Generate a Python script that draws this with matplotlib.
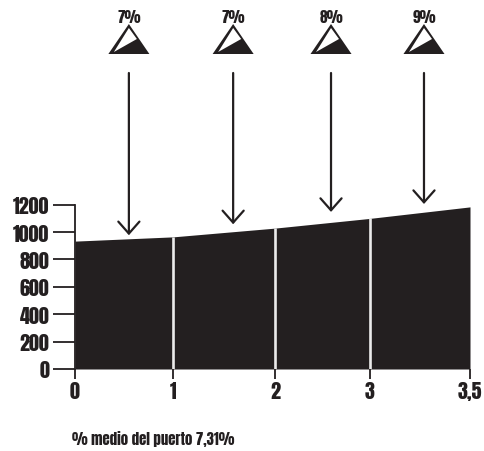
import matplotlib
matplotlib.use('Agg')
import matplotlib.pyplot as plt
import numpy as np
from matplotlib import font_manager

# data
km = [0, 1, 2, 3, 3.5]
altitude = [934, 965, 1029, 1100, 1184]
alt_ticks = [0, 200, 400, 600, 800, 1000, 1200]
km_labels = ['0', '1', '2', '3', '3,5']
# where each km mark sits along the axis (the original is not quite to scale)
km_place = [0, 0.992, 2.025, 2.987, 4.0]

slope_km = [0.55, 1.59, 2.59, 3.27]
slope_pct = ['7%', '7%', '8%', '9%']
arrow_tip = [977, 1057, 1147, 1205]
note = '% medio del puerto 7,31%'

INK = '#231f20'
names = {f.name for f in font_manager.fontManager.ttflist}
font = 'DejaVu Sans'
for cand in ['Anton', 'Oswald', 'League Gothic', 'Liberation Sans']:
    if cand in names:
        font = cand
        break
plt.rcParams['font.family'] = [font, 'DejaVu Sans']

W, H = 485, 452
fig = plt.figure(figsize=(W / 100, H / 100), dpi=100)
ax = fig.add_axes([75 / W, 1 - 370 / H, (470 - 75) / W, (370 - 205.7) / H])
ax.set_xscale('function', functions=(lambda v: np.interp(v, km, km_place, left=-1, right=5),
                                     lambda v: np.interp(v, km_place, km, left=-1, right=5)))
ax.set_xlim(0, 3.5)
ax.set_ylim(0, 1200)

# profile
ax.fill_between(km, altitude, 0, color=INK, lw=0)
ax.vlines(km[1:4], 0, altitude[1:4], color='#ebebeb', lw=1.9)

for s in ['top', 'right']:
    ax.spines[s].set_visible(False)
ax.spines['left'].set_linewidth(1.3)
ax.spines['left'].set_color(INK)
ax.spines['bottom'].set_visible(False)

ax.set_yticks(alt_ticks)
ax.set_xticks(km)
ax.set_xticklabels(km_labels)
ax.minorticks_off()
ax.tick_params(axis='y', length=15.5, width=1.3, color=INK, pad=3, labelsize=14.5, labelcolor=INK)
ax.tick_params(axis='x', length=7.2, width=1.3, color=INK, pad=1.5, labelsize=14.5, labelcolor=INK)

# arrows + slope icons above the profile
trans = ax.get_xaxis_transform()
for x, tip, pct in zip(slope_km, arrow_tip, slope_pct):
    ax.annotate('', xy=(x, tip), xycoords=('data', 'data'),
                xytext=(x, 1 + (205.7 - 74) / 164.3), textcoords=trans,
                arrowprops=dict(arrowstyle='->,head_length=0.86,head_width=0.76', color=INK, lw=1.6,
                                shrinkA=0, shrinkB=0), annotation_clip=False)
    # icon drawn in pixel offsets from the arrow's x
    x_px = ax.transData.transform((x, 0))[0]
    base = H - 55
    outer = plt.Polygon([(x_px - 20.5, base), (x_px, base + 30), (x_px + 20.5, base)], closed=True,
                        fc=INK, ec='none', transform=None)
    inner = plt.Polygon([(x_px - 15, base + 2), (x_px, base + 26), (x_px + 8, base + 15)], closed=True,
                        fc='white', ec='none', transform=None)
    fig.add_artist(outer)
    fig.add_artist(inner)
    fig.text(x_px / W, 1 - 23 / H, pct, ha='center', va='baseline', fontsize=11, color=INK)

fig.text(72 / W, 1 - 445 / H, note, ha='left', va='baseline', fontsize=10.7, color=INK)

fig.savefig('out.png', dpi=100)
